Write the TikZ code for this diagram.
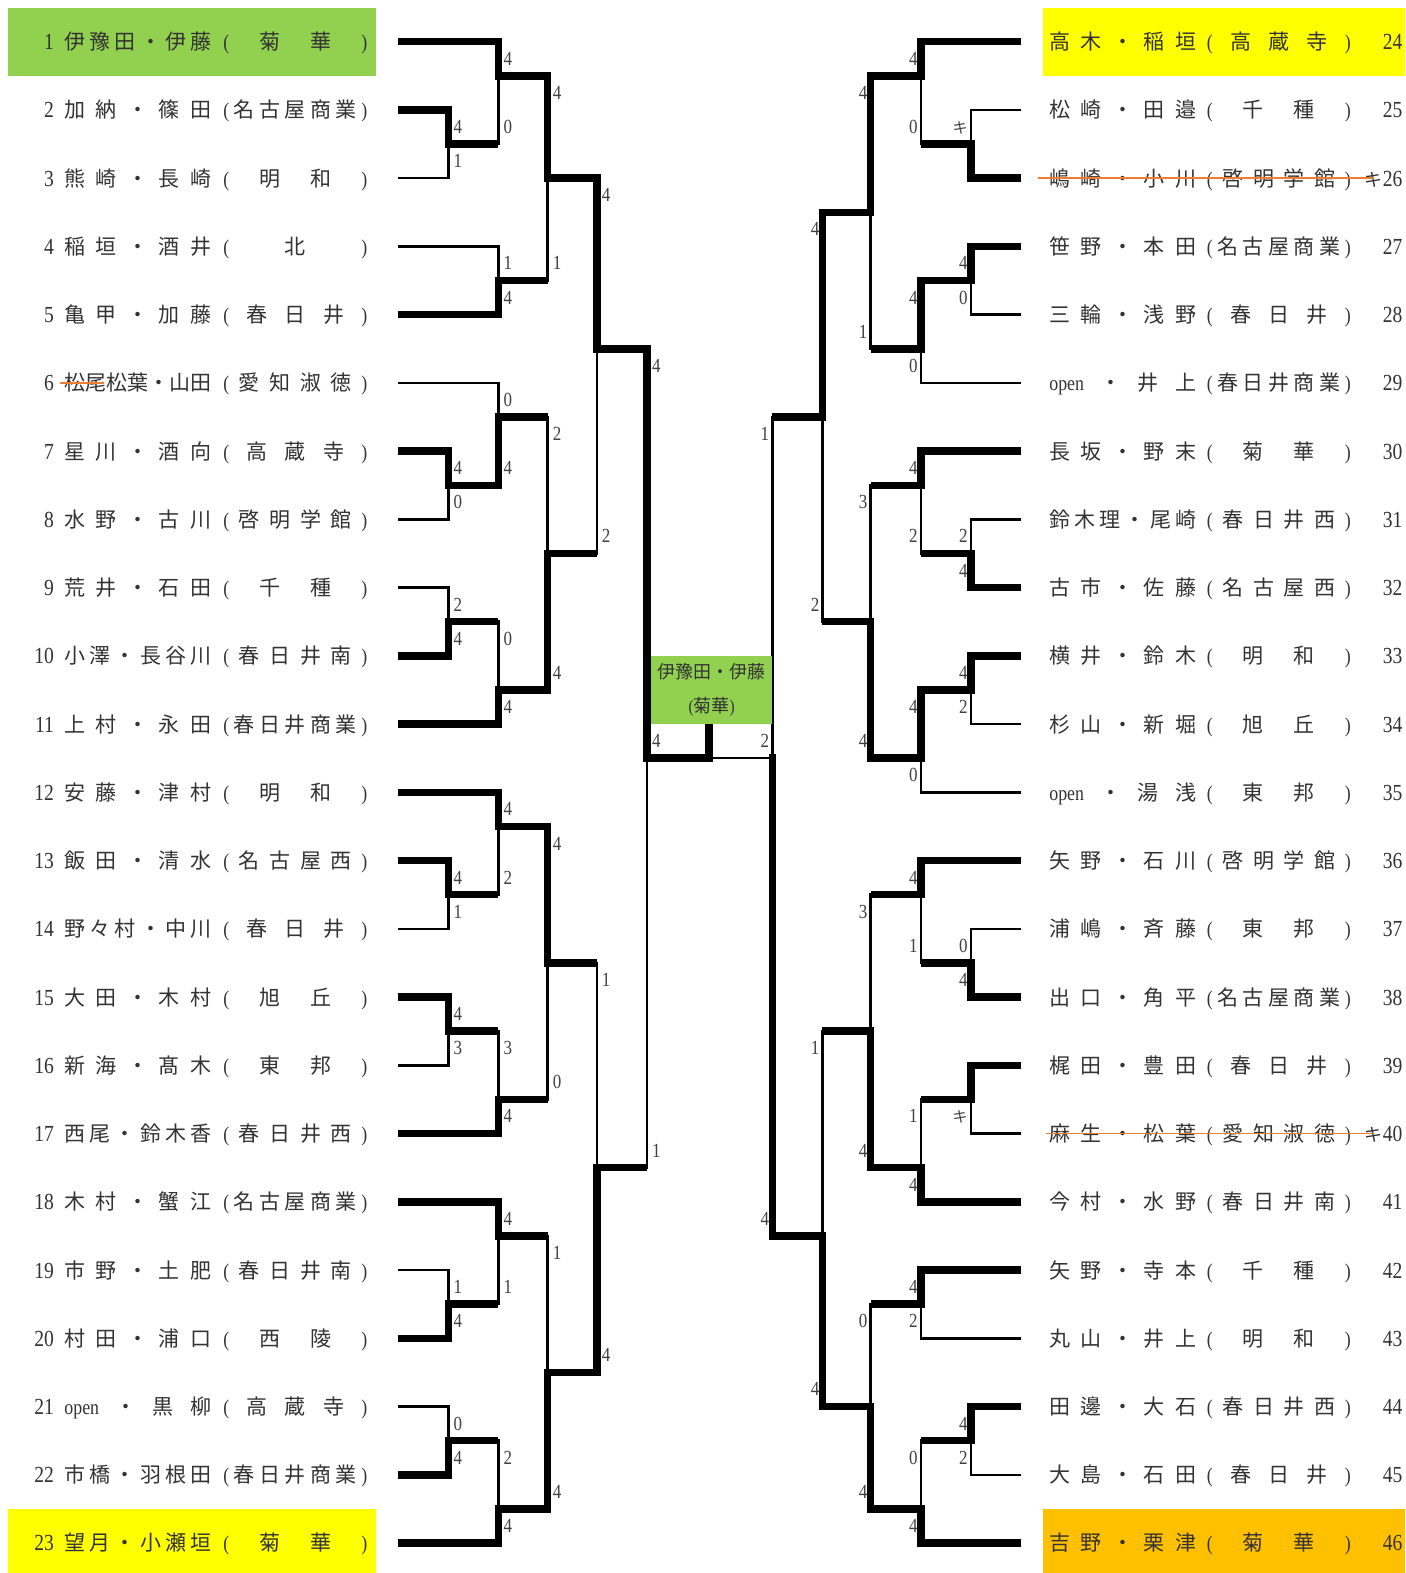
\documentclass[tikz,border=0pt]{standalone}
\usepackage{fontspec}
\setmainfont{Liberation Serif}[FakeStretch=0.85]
\newfontfamily\jp{Noto Sans CJK JP}
\usetikzlibrary{calc}
\definecolor{kgreen}{RGB}{146,208,80}
\definecolor{kyellow}{RGB}{255,255,0}
\definecolor{korange}{RGB}{255,192,0}
\definecolor{kstrike}{RGB}{237,125,49}
\newcommand\op{{\rmfamily open}}
\newcommand\kiken{{\jp\fontsize{15}{15}\selectfont キ}}
\newcommand\spread[2]{\makebox[#1]{\foreach \ch [count=\nk] in #2 {\ifnum\nk>1 \hfill\fi\ch}}}
\newcommand\paren[2]{\makebox[#1]{{\rmfamily(}\foreach \ch in #2 {\hfill\ch}\hfill{\rmfamily)}}}
\newcommand\game[8]{%
  \coordinate (#1j) at (#4 |- 0,#2);
  \draw[vert,top #8] (#4) -- (#1j);
  \draw[vert,bot #8] (#5) -- (#1j);
  \draw[fwd] (#1j) -- (#3,#2) coordinate (#1);
  \node[sc] (#1a) at ($(#4)+(0,0.25)$) {#6};
  \node[sc] (#1b) at ($(#5)+(0,-0.25)$) {#7};
}
\tikzset{
  won/.style={line width=7.5pt},
  lost/.style={line width=2.5pt},
  vert/.style={line cap=rect},
  top t/.style={won}, top b/.style={lost},
  bot t/.style={lost}, bot b/.style={won},
  fwd/.style={won},
  score/.style={font=\fontsize{20}{20}\selectfont,text=black!75,inner sep=0pt,text height=13pt,text depth=0pt},
  scl/.style={score,anchor=west,xshift=5pt},
  scr/.style={score,anchor=east,xshift=-3pt},
  nm/.style={font=\jp\fontsize{21}{25}\selectfont,text=black!80,inner sep=0pt,text height=19pt,text depth=3pt},
  num/.style={font=\fontsize{23}{25}\selectfont,text=black!80,inner sep=0pt,text height=19pt,text depth=3pt,anchor=east},
  strk/.style={draw=kstrike,line width=1.6pt},
  champ/.style={fill=kgreen,minimum width=121pt,minimum height=68.24pt,inner sep=0pt,align=center,font=\jp\fontsize{18}{34}\selectfont,text=black!80}
}
\begin{document}
\begin{tikzpicture}[x=1.003pt,y=-68.24pt]
\fill[white] (0,0.3889) rectangle (1400.8,23.44);
\useasboundingbox (0,0.3889) rectangle (1400.8,23.44);
\fill[kgreen] (8,0.5) rectangle (375,1.5);
\fill[kyellow] (8,22.5) rectangle (375,23.44);
\fill[kyellow] (1040,0.5) rectangle (1400.8,1.5);
\fill[korange] (1040,22.5) rectangle (1400.8,23.44);

\foreach \i/\nm/\sch in {1/{伊,豫,田,・,伊,藤}/{菊,華},
  2/{加,納,・,篠,田}/{名,古,屋,商,業}, 3/{熊,崎,・,長,崎}/{明,和},
  4/{稲,垣,・,酒,井}/{北}, 5/{亀,甲,・,加,藤}/{春,日,井},
  6/{松,尾,松,葉,・,山,田}/{愛,知,淑,徳}, 7/{星,川,・,酒,向}/{高,蔵,寺},
  8/{水,野,・,古,川}/{啓,明,学,館}, 9/{荒,井,・,石,田}/{千,種},
  10/{小,澤,・,長,谷,川}/{春,日,井,南}, 11/{上,村,・,永,田}/{春,日,井,商,業},
  12/{安,藤,・,津,村}/{明,和}, 13/{飯,田,・,清,水}/{名,古,屋,西},
  14/{野,々,村,・,中,川}/{春,日,井}, 15/{大,田,・,木,村}/{旭,丘},
  16/{新,海,・,髙,木}/{東,邦}, 17/{西,尾,・,鈴,木,香}/{春,日,井,西},
  18/{木,村,・,蟹,江}/{名,古,屋,商,業}, 19/{市,野,・,土,肥}/{春,日,井,南},
  20/{村,田,・,浦,口}/{西,陵}, 21/{\op,・,黒,柳}/{高,蔵,寺},
  22/{市,橋,・,羽,根,田}/{春,日,井,商,業}, 23/{望,月,・,小,瀬,垣}/{菊,華}}{
  \node[num] (k\i) at (54,\i) {\i};
  \node[nm] (n\i) at (137.5,\i) {\spread{147pt}{\nm}};
  \node[nm] (s\i) at (294.5,\i) {\paren{144pt}{\sch}};
}
\foreach \j/\nm/\sch in {24/{高,木,・,稲,垣}/{高,蔵,寺},
  25/{松,崎,・,田,邉}/{千,種}, 26/{嶋,崎,・,小,川}/{啓,明,学,館},
  27/{笹,野,・,本,田}/{名,古,屋,商,業}, 28/{三,輪,・,浅,野}/{春,日,井},
  29/{\op,・,井,上}/{春,日,井,商,業}, 30/{長,坂,・,野,末}/{菊,華},
  31/{鈴,木,理,・,尾,崎}/{春,日,井,西}, 32/{古,市,・,佐,藤}/{名,古,屋,西},
  33/{横,井,・,鈴,木}/{明,和}, 34/{杉,山,・,新,堀}/{旭,丘},
  35/{\op,・,湯,浅}/{東,邦}, 36/{矢,野,・,石,川}/{啓,明,学,館},
  37/{浦,嶋,・,斉,藤}/{東,邦}, 38/{出,口,・,角,平}/{名,古,屋,商,業},
  39/{梶,田,・,豊,田}/{春,日,井}, 40/{麻,生,・,松,葉}/{愛,知,淑,徳},
  41/{今,村,・,水,野}/{春,日,井,南}, 42/{矢,野,・,寺,本}/{千,種},
  43/{丸,山,・,井,上}/{明,和}, 44/{田,邊,・,大,石}/{春,日,井,西},
  45/{大,島,・,石,田}/{春,日,井}, 46/{吉,野,・,栗,津}/{菊,華}}{
  \pgfmathtruncatemacro\rr{\j-23}
  \node[nm] (n\j) at (1119.5,\rr) {\spread{147pt}{\nm}};
  \node[nm] (s\j) at (1275,\rr) {\paren{144pt}{\sch}};
  \node[num] (k\j) at (1398.5,\rr) {\j};
}
\foreach \j in {26,40}
  \node[nm,anchor=east,font=\jp\fontsize{18}{20}\selectfont] (q\j) at (k\j.west) {キ};
\draw[strk] ([xshift=-4pt]n6.west) -- ++(44,0);
\draw[strk] ([xshift=-11pt]n26.west) -- (q26.center);
\draw[strk] ([xshift=-3pt]n40.west) -- (q40.center);

\foreach \i/\x/\w in {1/497/won,2/447/won,3/447/lost,4/497/lost,5/497/won,6/497/lost,
  7/447/won,8/447/lost,9/447/lost,10/447/won,11/497/won,12/497/won,13/447/won,
  14/447/lost,15/447/won,16/447/lost,17/497/won,18/497/won,19/447/lost,20/447/won,
  21/447/lost,22/447/won,23/497/won}
  \draw[\w] (397,\i) -- (\x,\i) coordinate (e\i);
\foreach \j/\x/\w in {24/918/won,25/968/lost,26/968/won,27/968/won,28/968/lost,
  29/918/lost,30/918/won,31/968/lost,32/968/won,33/968/won,34/968/lost,35/918/lost,
  36/918/won,37/968/lost,38/968/won,39/968/won,40/968/lost,41/918/won,42/918/won,
  43/918/lost,44/968/won,45/968/lost,46/918/won}{
  \pgfmathtruncatemacro\rr{\j-23}
  \draw[\w] (1018,\rr) -- (\x,\rr) coordinate (e\j);
}

\begin{scope}[sc/.style=scl]
\game{l1}{2.5}{497}{e2}{e3}{4}{1}{t}
\game{l2}{1.5}{546}{e1}{l1}{4}{0}{t}
\game{l3}{4.5}{546}{e4}{e5}{1}{4}{b}
\game{l4}{3}{595}{l2}{l3}{4}{1}{t}
\game{l5}{7.5}{497}{e7}{e8}{4}{0}{t}
\game{l6}{6.5}{546}{e6}{l5}{0}{4}{b}
\game{l7}{9.5}{497}{e9}{e10}{2}{4}{b}
\game{l8}{10.5}{546}{l7}{e11}{0}{4}{b}
\game{l9}{8.5}{595}{l6}{l8}{2}{4}{b}
\game{l10}{5.5}{645}{l4}{l9}{4}{2}{t}
\game{l11}{13.5}{497}{e13}{e14}{4}{1}{t}
\game{l12}{12.5}{546}{e12}{l11}{4}{2}{t}
\game{l13}{15.5}{497}{e15}{e16}{4}{3}{t}
\game{l14}{16.5}{546}{l13}{e17}{3}{4}{b}
\game{l15}{14.5}{595}{l12}{l14}{4}{0}{t}
\game{l16}{19.5}{497}{e19}{e20}{1}{4}{b}
\game{l17}{18.5}{546}{e18}{l16}{4}{1}{t}
\game{l18}{21.5}{497}{e21}{e22}{0}{4}{b}
\game{l19}{22.5}{546}{l18}{e23}{2}{4}{b}
\game{l20}{20.5}{595}{l17}{l19}{1}{4}{b}
\game{l21}{17.5}{645}{l15}{l20}{1}{4}{b}
\game{l22}{11.5}{707}{l10}{l21}{4}{1}{t}
\end{scope}

\begin{scope}[sc/.style=scr]
\game{r1}{2.5}{918}{e25}{e26}{\kiken}{}{b}
\game{r2}{1.5}{868}{e24}{r1}{4}{0}{t}
\game{r3}{4.5}{918}{e27}{e28}{4}{0}{t}
\game{r4}{5.5}{868}{r3}{e29}{4}{0}{t}
\game{r5}{3.5}{820}{r2}{r4}{4}{1}{t}
\game{r6}{8.5}{918}{e31}{e32}{2}{4}{b}
\game{r7}{7.5}{868}{e30}{r6}{4}{2}{t}
\game{r8}{10.5}{918}{e33}{e34}{4}{2}{t}
\game{r9}{11.5}{868}{r8}{e35}{4}{0}{t}
\game{r10}{9.5}{820}{r7}{r9}{3}{4}{b}
\game{r11}{6.5}{770}{r5}{r10}{4}{2}{t}
\game{r12}{14.5}{918}{e37}{e38}{0}{4}{b}
\game{r13}{13.5}{868}{e36}{r12}{4}{1}{t}
\game{r14}{16.5}{918}{e39}{e40}{}{\kiken}{t}
\game{r15}{17.5}{868}{r14}{e41}{1}{4}{b}
\game{r16}{15.5}{820}{r13}{r15}{3}{4}{b}
\game{r17}{19.5}{868}{e42}{e43}{4}{2}{t}
\game{r18}{21.5}{918}{e44}{e45}{4}{2}{t}
\game{r19}{22.5}{868}{r18}{e46}{0}{4}{b}
\game{r20}{21}{820}{r17}{r19}{0}{4}{b}
\game{r21}{18.5}{770}{r16}{r20}{1}{4}{b}
\begin{scope}[fwd/.style=lost]
\game{r22}{11.5}{707}{r11}{r21}{1}{4}{b}
\end{scope}
\end{scope}

\draw[vert,won] (l22) -- (l22 |- 0,11);
\node[champ] (champ) at (709.5,10.5) {伊豫田・伊藤\\{\rmfamily(}菊華{\rmfamily)}};
\node[scl] (fa) at ($(l22j)+(0,-0.25)$) {4};
\node[scr] (fb) at ($(r22j)+(0,-0.25)$) {2};
\end{tikzpicture}
\end{document}
